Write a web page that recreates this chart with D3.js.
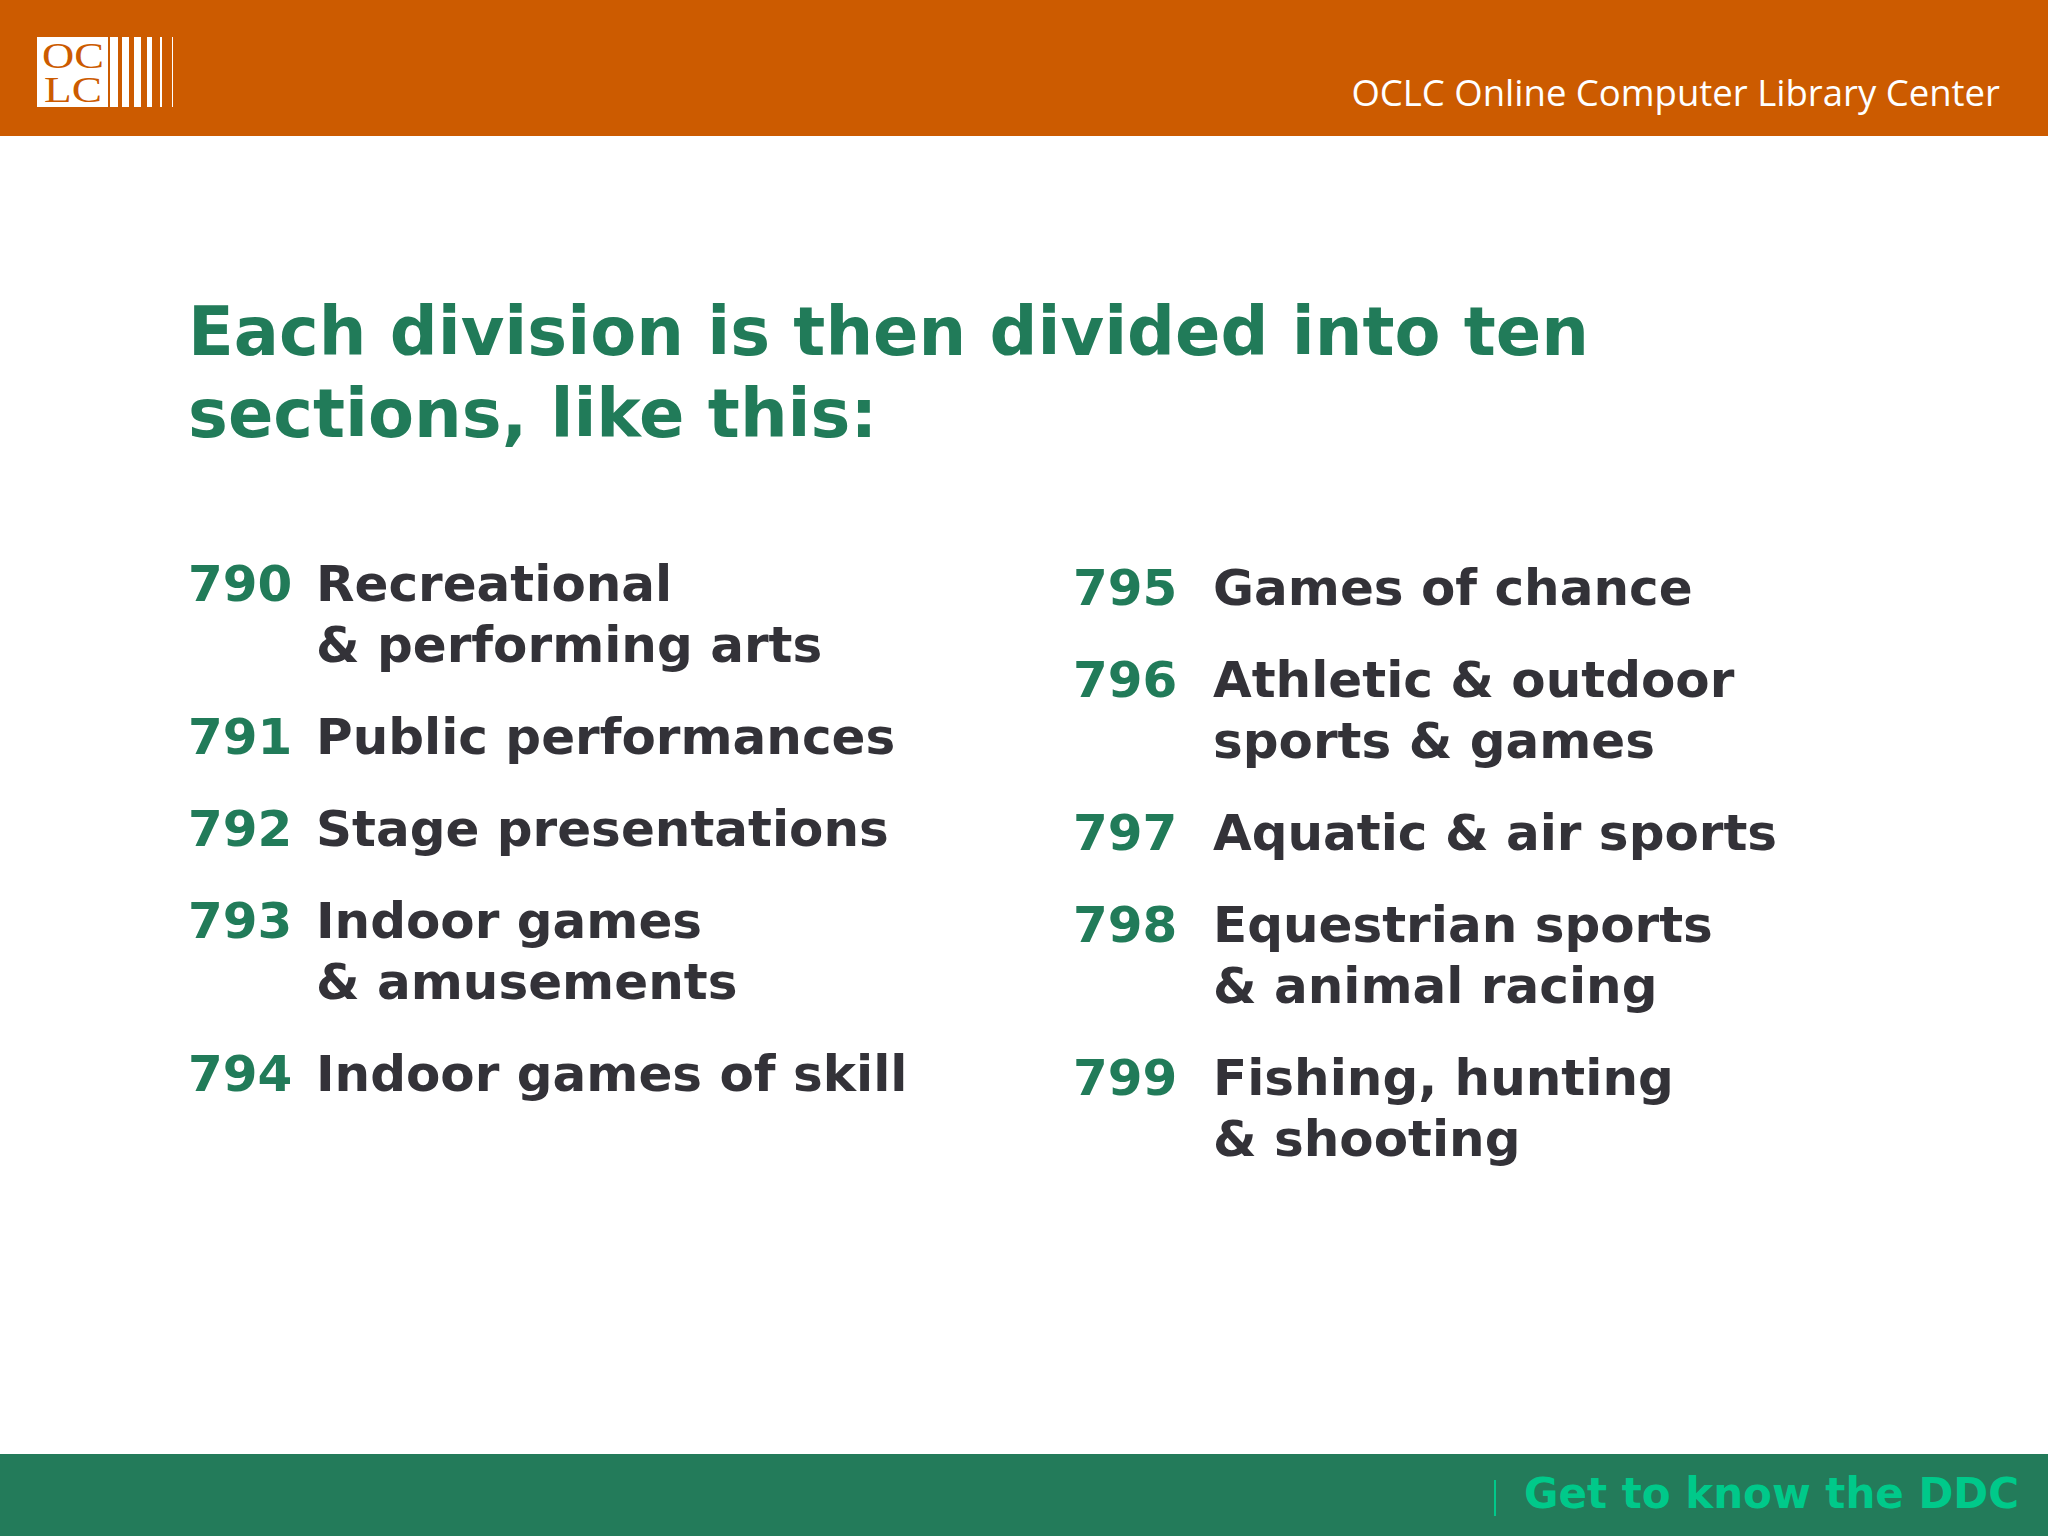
<!DOCTYPE html>
<html><head><meta charset="utf-8">
<script src="https://cdn.jsdelivr.net/npm/d3@7"></script>
<style>body{margin:0;background:#fff;overflow:hidden}</style>
</head><body><div id="slide"></div>
<script>
// slide content
const title = ["Each division is then divided into ten", "sections, like this:"];
const leftCodes = ["790", "791", "792", "793", "794"];
const leftLabels = [["Recreational", "& performing arts"], ["Public performances"], ["Stage presentations"], ["Indoor games", "& amusements"], ["Indoor games of skill"]];
const rightCodes = ["795", "796", "797", "798", "799"];
const rightLabels = [["Games of chance"], ["Athletic & outdoor", "sports & games"], ["Aquatic & air sports"], ["Equestrian sports", "& animal racing"], ["Fishing, hunting", "& shooting"]];

const W = 2048, H = 1536;
const orange = "#cc5b00", green = "#217b59", dark = "#333238";
const font = "'DejaVu Sans', Verdana, sans-serif";

const svg = d3.select("#slide").append("svg").attr("width", W).attr("height", H);

// header
svg.append("rect").attr("width", W).attr("height", 136).attr("fill", orange);
svg.append("rect").attr("x", 37).attr("y", 37).attr("width", 71).attr("height", 70).attr("fill", "#fff");
const logo = svg.append("g").attr("fill", orange).style("font-family", "'Liberation Serif', serif").style("font-size", "36px");
logo.append("text").attr("x", 42).attr("y", 68).attr("textLength", 62).attr("lengthAdjust", "spacingAndGlyphs").text("OC");
logo.append("text").attr("x", 44).attr("y", 102).attr("textLength", 58).attr("lengthAdjust", "spacingAndGlyphs").text("LC");
const barX = [[110, 118], [122, 129], [134, 141], [147, 152], [160, 162], [172, 173]];
svg.selectAll("rect.bar").data(barX).enter().append("rect").attr("class", "bar")
  .attr("x", d => d[0]).attr("y", 37).attr("width", d => d[1] - d[0]).attr("height", 70).attr("fill", "#fff");
svg.append("text").attr("x", 2000).attr("y", 106).attr("text-anchor", "end")
  .attr("fill", "#fff").style("font-family", "'Open Sans', sans-serif").style("font-size", "36.5px")
  .text("OCLC Online Computer Library Center");

// title
svg.selectAll("text.title").data(title).enter().append("text").attr("class", "title")
  .attr("x", 188).attr("y", (d, i) => 355 + i * 82)
  .attr("fill", green).style("font-family", font).style("font-weight", "bold").style("font-size", "67px")
  .text(d => d);

// list layout: line spacing and item gap
function column(codes, labels, xCode, xText, y0) {
  let y = y0;
  const rows = codes.map((c, i) => { const r = {code: c, lines: labels[i], y}; y += (labels[i].length - 1) * 61 + 92; return r; });
  const g = svg.append("g").style("font-family", font).style("font-weight", "bold").style("font-size", "50px");
  const item = g.selectAll("g").data(rows).enter().append("g");
  item.append("text").attr("x", xCode).attr("y", d => d.y).attr("fill", green).text(d => d.code);
  item.selectAll("text.l").data(d => d.lines.map((t, j) => ({t, y: d.y + j * 61}))).enter()
    .append("text").attr("class", "l").attr("x", xText).attr("y", d => d.y).attr("fill", dark).text(d => d.t);
}
column(leftCodes, leftLabels, 188, 316, 601);
column(rightCodes, rightLabels, 1073, 1213, 605);

// footer
svg.append("rect").attr("y", 1454).attr("width", W).attr("height", H - 1454).attr("fill", "#237b5a");
svg.append("line").attr("x1", 1495).attr("x2", 1495).attr("y1", 1480).attr("y2", 1516).attr("stroke", "#00c98a").attr("stroke-width", 2);
svg.append("text").attr("x", 2019).attr("y", 1508).attr("text-anchor", "end")
  .attr("fill", "#00c98a").style("font-family", font).style("font-weight", "bold").style("font-size", "42px")
  .text("Get to know the DDC");
</script></body></html>
